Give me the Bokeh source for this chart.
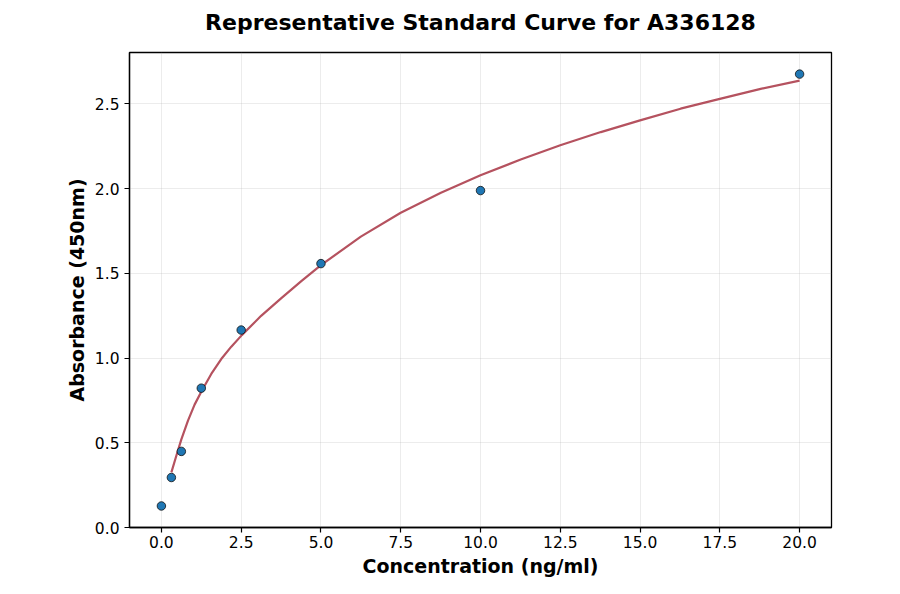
from bokeh.plotting import figure
from bokeh.models import Range1d, FixedTicker, CustomJSTickFormatter, LinearAxis
from bokeh.embed import file_html
from bokeh.resources import INLINE

# data points
conc = [0.0, 0.3125, 0.625, 1.25, 2.5, 5.0, 10.0, 20.0]
absorb = [0.127, 0.295, 0.449, 0.822, 1.165, 1.557, 1.988, 2.675]

# fitted curve
curve_x = [0.3125, 0.47, 0.625, 0.833, 1.04, 1.27, 1.5625, 1.875, 2.19, 2.52,
           3.125, 3.75, 4.375, 5.0, 6.25, 7.5, 8.76, 10.0, 11.26, 12.5,
           13.77, 15.0, 16.27, 17.5, 18.78, 20.0]
curve_y = [0.325, 0.425, 0.52, 0.631, 0.725, 0.808, 0.906, 0.994, 1.067, 1.135,
           1.249, 1.352, 1.452, 1.548, 1.716, 1.857, 1.975, 2.078, 2.171, 2.255,
           2.333, 2.402, 2.471, 2.529, 2.588, 2.637]

x_ticks = [0.0, 2.5, 5.0, 7.5, 10.0, 12.5, 15.0, 17.5, 20.0]
y_ticks = [0.0, 0.5, 1.0, 1.5, 2.0, 2.5]
title_text = "Representative Standard Curve for A336128"

FONT = "DejaVu Sans"

p = figure(width=884, height=582, output_backend="svg", toolbar_location=None,
           x_range=Range1d(-1.0, 21.0), y_range=Range1d(0.0, 2.8025),
           min_border_left=129, min_border_right=53,
           min_border_top=52, min_border_bottom=55)

p.outline_line_color = "black"
p.outline_line_width = 1.3
p.background_fill_color = "white"
p.border_fill_color = "white"

for ax in (p.xaxis[0], p.yaxis[0]):
    ax.axis_line_color = "black"
    ax.axis_line_width = 1.3
    ax.major_tick_line_color = "black"
    ax.major_tick_line_width = 1.2
    ax.major_tick_out = 5
    ax.major_tick_in = 0
    ax.minor_tick_out = 0
    ax.minor_tick_in = 0
    ax.major_label_text_font = FONT
    ax.major_label_text_font_size = "15.5px"
    ax.major_label_text_color = "black"
    ax.axis_label_text_font = FONT
    ax.axis_label_text_font_size = "19px"
    ax.axis_label_text_font_style = "bold"
    ax.axis_label_text_color = "black"
    ax.formatter = CustomJSTickFormatter(code="return tick.toFixed(1);")

p.xaxis[0].ticker = FixedTicker(ticks=x_ticks)
p.yaxis[0].ticker = FixedTicker(ticks=y_ticks)
p.xaxis[0].axis_label = "Concentration (ng/ml)"
p.yaxis[0].axis_label = "Absorbance (450nm)"
p.xaxis[0].major_label_standoff = 3
p.yaxis[0].major_label_standoff = 5
p.xaxis[0].axis_label_standoff = 4
p.yaxis[0].axis_label_standoff = 4

# chart title drawn as the label of a bare axis above the frame
top_axis = LinearAxis(ticker=FixedTicker(ticks=[]), axis_label=title_text,
                      axis_line_color=None, major_tick_line_color=None,
                      minor_tick_line_color=None, major_tick_out=0,
                      minor_tick_out=0, major_label_standoff=0,
                      major_label_text_font_size="0px",
                      axis_label_standoff=18,
                      axis_label_text_font=FONT,
                      axis_label_text_font_size="22px",
                      axis_label_text_font_style="bold",
                      axis_label_text_color="black")
p.add_layout(top_axis, "above")

p.xgrid.ticker = FixedTicker(ticks=x_ticks)
p.ygrid.ticker = FixedTicker(ticks=y_ticks)
for g in (p.xgrid[0], p.ygrid[0]):
    g.grid_line_color = "#b0b0b0"
    g.grid_line_alpha = 0.3
    g.grid_line_width = 0.8

p.line(curve_x, curve_y, line_color="#b5525f", line_width=2.2)
p.scatter(conc, absorb, size=8.5, fill_color="#1f77b4", line_color="#111111",
          line_width=0.8)

open("out.html", "w").write(file_html(p, INLINE))
